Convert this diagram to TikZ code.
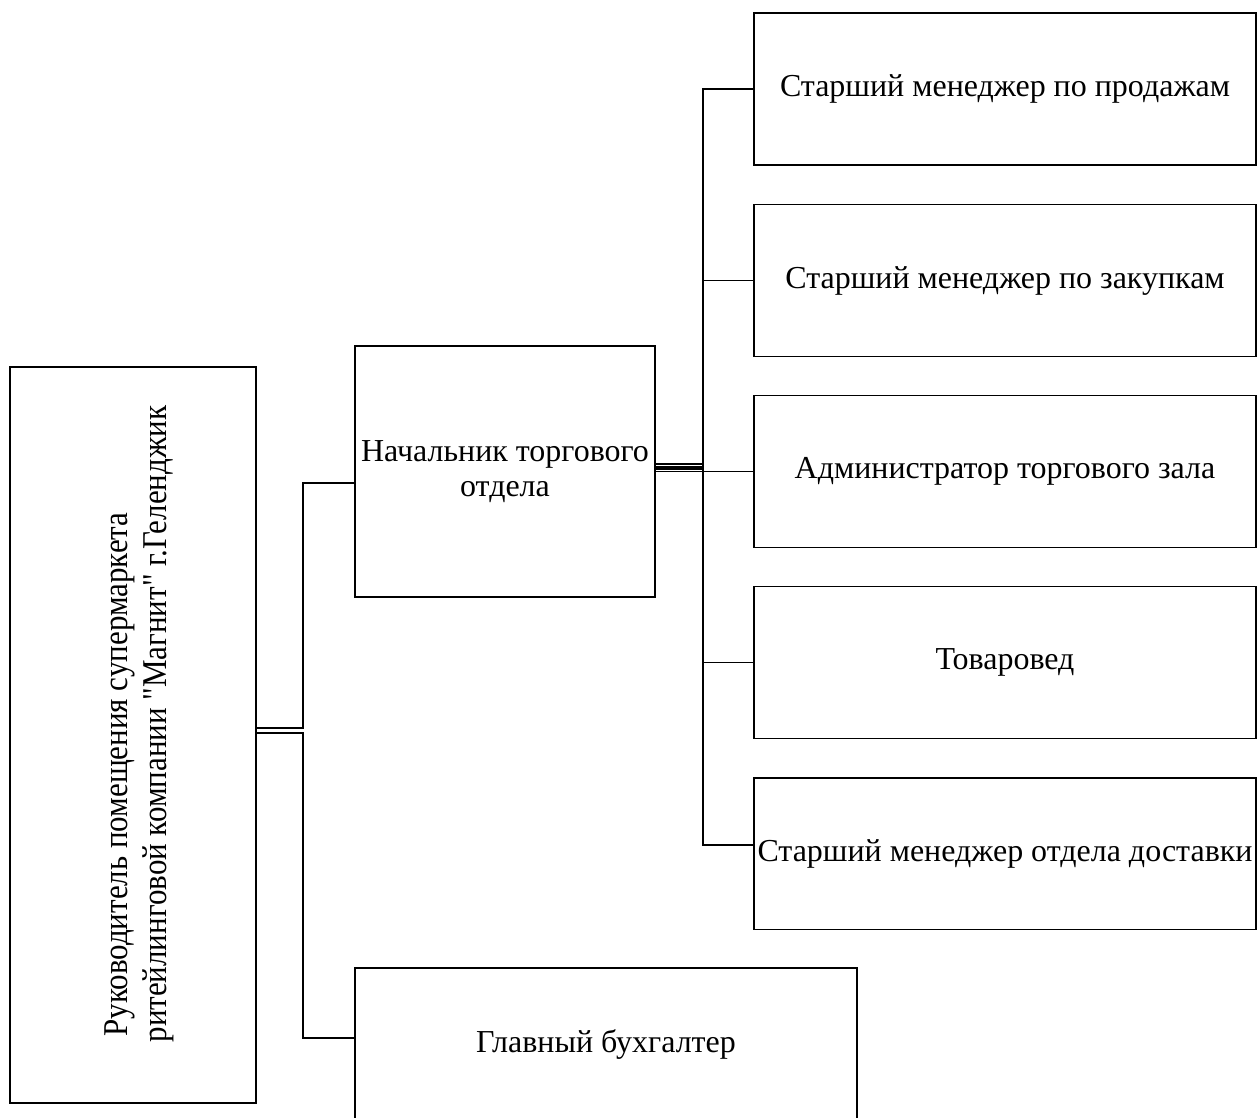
\documentclass[tikz,border=0pt]{standalone}
\usepackage{fontspec}
\setmainfont{Liberation Serif}
\newfontfamily\rawserif{Liberation Serif}
\usepackage{graphicx}
\newcommand\qt{{\rawserif"}}
\begin{document}
\begin{tikzpicture}[x=0.02cm, y=-0.02cm, line join=miter, line width=1.1pt,
	box/.style={draw, rectangle, inner sep=1pt, align=center, font=\fontsize{18.2}{20}\selectfont},
	post/.style={box, minimum width=10.04cm, minimum height=3.04cm}]
	\useasboundingbox (0,0) rectangle (1257,1117);
	\def\busa{303} \def\busb{703}
	% boxes
	\node[box, minimum width=4.92cm, minimum height=14.72cm] (ruk) at (133,735) {};
	\node[rotate=90, inner sep=0pt, font=\fontsize{18}{20}\selectfont] (rukt) at (139,724)
		{\scalebox{0.98}[1.1]{\begin{tabular}{@{}l@{}}\hspace*{0.12cm}Руководитель помещения супермаркета\\ритейлинговой компании \qt Магнит\qt{} г.Геленджик\end{tabular}}};
	\node[box, minimum width=6cm, minimum height=5.02cm] (nach) at (505,471.5) {Начальник торгового\\отдела};
	\node[post] (prod) at (1005,89) {Старший менеджер по продажам};
	\node[post] (zak) at (1005,280.5) {Старший менеджер по закупкам};
	\node[post] (admin) at (1005,471.5) {Администратор торгового зала};
	\node[post] (tov) at (1005,662.5) {Товаровед};
	\node[post] (dost) at (1005,853.5) {Старший менеджер отдела доставки};
	\node[post] (buh) at (606,1044) {Главный бухгалтер};
	% connectors
	\draw (ruk.east |- 0,728) -| (\busa,483) -- (nach.west |- 0,483);
	\draw (ruk.east |- 0,733) -| (\busa,1038) -- (buh.west |- 0,1038);
	\draw (nach.east |- 0,464) -| (\busb,89) -- (prod.west);
	\draw (nach.east |- 0,467) -| (\busb,280.5) -- (zak.west);
	\draw (nach.east |- admin.west) -- (admin.west);
	\draw (nach.east |- 0,469) -| (\busb,662.5) -- (tov.west);
	\draw (nach.east |- 0,469) -| (\busb,845) -- (dost.west |- 0,845);
\end{tikzpicture}
\end{document}
